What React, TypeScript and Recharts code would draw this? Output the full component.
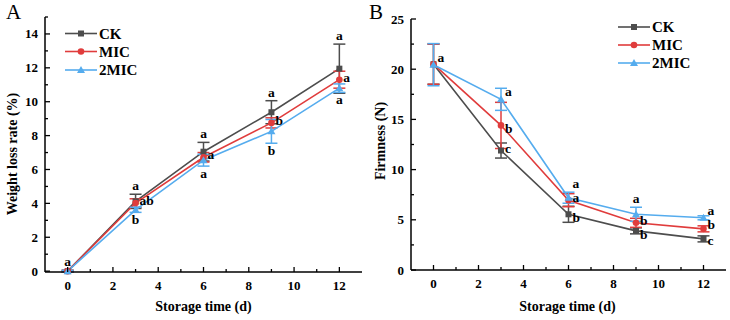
import React from 'react';
import { LineChart, Line, XAxis, YAxis, ErrorBar, ReferenceDot } from 'recharts';

const FONT = '"Liberation Serif", "Times New Roman", serif';

const days = [0, 3, 6, 9, 12];
const seriesNames = ['CK', 'MIC', '2MIC'];
const seriesColors = ['#4d4d4d', '#e03c3c', '#55acee'];
const seriesMarkers = ['square', 'circle', 'triangle'];

const xTicks = [0, 1, 2, 3, 4, 5, 6, 7, 8, 9, 10, 11, 12];

// A - weight loss rate (%)
const weightCK = [0, 4.12, 7.05, 9.38, 11.95];
const weightCKErr = [0.05, 0.42, 0.55, 0.68, 1.45];
const weightMIC = [0, 4.02, 6.72, 8.75, 11.3];
const weightMICErr = [0.05, 0.25, 0.28, 0.3, 0.5];
const weight2MIC = [0, 3.62, 6.55, 8.25, 10.8];
const weight2MICErr = [0.05, 0.15, 0.35, 0.7, 0.25];
const weightLettersCK = ['a', 'a', 'a', 'a', 'a'];
const weightLettersMIC = ['', 'ab', 'a', 'b', 'a'];
const weightLetters2MIC = ['', 'b', 'a', 'b', 'a'];
const weightYTicks = [0, 1, 2, 3, 4, 5, 6, 7, 8, 9, 10, 11, 12, 13, 14, 15];

// B - firmness (N)
const firmCK = [20.5, 11.9, 5.55, 3.9, 3.1];
const firmCKErr = [2.0, 0.75, 0.8, 0.3, 0.3];
const firmMIC = [20.5, 14.4, 6.95, 4.7, 4.1];
const firmMICErr = [2.0, 2.3, 0.65, 0.45, 0.3];
const firm2MIC = [20.45, 17.0, 7.2, 5.55, 5.2];
const firm2MICErr = [2.1, 1.1, 0.55, 0.7, 0.2];
const firmLettersCK = ['', 'c', 'b', 'b', 'c'];
const firmLettersMIC = ['', 'b', 'a', 'b', 'b'];
const firmLetters2MIC = ['a', 'a', 'a', 'a', 'a'];
const firmYTicks = [0, 2.5, 5, 7.5, 10, 12.5, 15, 17.5, 20, 22.5, 25];

type Pos = 'top' | 'bottom' | 'right' | 'midright' | 'upright' | 'topright' | 'downright' | 'lowright';

const weightRows = days.map((d, i) => ({
  day: d,
  s0: weightCK[i], e0: weightCKErr[i],
  s1: weightMIC[i], e1: weightMICErr[i],
  s2: weight2MIC[i], e2: weight2MICErr[i],
}));

const firmRows = days.map((d, i) => ({
  day: d,
  s0: firmCK[i], e0: firmCKErr[i],
  s1: firmMIC[i], e1: firmMICErr[i],
  s2: firm2MIC[i], e2: firm2MICErr[i],
}));

function Marker({ kind, cx, cy, color }: any) {
  if (kind === 'square') return <rect x={cx - 3} y={cy - 3} width={6} height={6} fill={color} />;
  if (kind === 'circle') return <circle cx={cx} cy={cy} r={3.3} fill={color} />;
  return <polygon points={`${cx},${cy - 4} ${cx + 4},${cy + 3} ${cx - 4},${cy + 3}`} fill={color} />;
}

const makeXTick = () => (p: any) => {
  const v = p.payload.value;
  const major = v % 2 === 0;
  return (
    <g key={`xt-${v}`}>
      <line x1={p.x} x2={p.x} y1={p.y} y2={p.y - (major ? 5 : 3)} stroke="#000" strokeWidth={1.3} />
      {major && (
        <text x={p.x} y={p.y + 18} textAnchor="middle" fontSize={13} fontWeight="bold" fontFamily={FONT} fill="#000">
          {v}
        </text>
      )}
    </g>
  );
};

const makeYTick = (step: number) => (p: any) => {
  const v = p.payload.value;
  const major = Math.abs(v % step) < 1e-6;
  return (
    <g key={`yt-${v}`}>
      <line x1={p.x} x2={p.x + (major ? 5 : 3)} y1={p.y} y2={p.y} stroke="#000" strokeWidth={1.3} />
      {major && (
        <text x={p.x - 7} y={p.y + 4.5} textAnchor="end" fontSize={13} fontWeight="bold" fontFamily={FONT} fill="#000">
          {v}
        </text>
      )}
    </g>
  );
};

const letterLabel = (text: string, pos: Pos) => (p: any) => {
  const vb = p.viewBox || {};
  const cx = vb.x + (vb.width || 0) / 2;
  const cy = vb.y + (vb.height || 0) / 2;
  let x = cx;
  let y = cy;
  let anchor = 'middle';
  if (pos === 'top') y = cy - 4;
  else if (pos === 'bottom') y = cy + 12;
  else if (pos === 'right') { x = cx + 4; y = cy + 2; anchor = 'start'; }
  else if (pos === 'midright') { x = cx + 4; y = cy; anchor = 'start'; }
  else if (pos === 'downright') { x = cx + 4; y = cy + 8; anchor = 'start'; }
  else if (pos === 'lowright') { x = cx + 4; y = cy + 6; anchor = 'start'; }
  else if (pos === 'upright') { x = cx + 4; y = cy - 3; anchor = 'start'; }
  else { x = cx + 4; y = cy - 4; anchor = 'start'; }
  return (
    <text x={x} y={y} textAnchor={anchor} fontSize={13.5} fontWeight="bold" fontFamily={FONT} fill="#000">
      {text}
    </text>
  );
};

function anchorValue(v: number, e: number, pos: Pos) {
  if (pos === 'top' || pos === 'topright') return v + e;
  if (pos === 'bottom') return v - e;
  return v;
}

function Panel({ rows, yDomain, yTicks, yStep, margin, yWidth, xHeight, letters }: any) {
  return (
    <LineChart width={365} height={320} data={rows} margin={margin}>
      <XAxis
        type="number"
        dataKey="day"
        domain={[-1, 13]}
        ticks={xTicks}
        interval={0}
        height={xHeight}
        tickSize={0}
        tickMargin={0}
        tickLine={false}
        axisLine={{ stroke: '#000', strokeWidth: 1.5 }}
        tick={makeXTick()}
      />
      <YAxis
        type="number"
        domain={yDomain}
        ticks={yTicks}
        interval={0}
        width={yWidth}
        tickSize={0}
        tickMargin={0}
        tickLine={false}
        axisLine={{ stroke: '#000', strokeWidth: 1.5 }}
        tick={makeYTick(yStep)}
      />
      {[0, 1, 2].map((s) => (
        <Line
          key={seriesNames[s]}
          dataKey={`s${s}`}
          stroke={seriesColors[s]}
          strokeWidth={1.6}
          isAnimationActive={false}
          activeDot={false}
          dot={(p: any) => (
            <Marker key={`d${s}-${p.index}`} kind={seriesMarkers[s]} cx={p.cx} cy={p.cy} color={seriesColors[s]} />
          )}
        >
          <ErrorBar dataKey={`e${s}`} width={6} strokeWidth={1.5} stroke={seriesColors[s]} direction="y" />
        </Line>
      ))}
      {letters.map((l: any, s: number) =>
        l.text.map((t: string, i: number) =>
          t ? (
            <ReferenceDot
              key={`l${s}-${i}`}
              x={days[i]}
              y={anchorValue(rows[i][`s${s}`], rows[i][`e${s}`], l.pos[i])}
              r={1}
              fill="none"
              stroke="none"
              label={letterLabel(t, l.pos[i])}
            />
          ) : null
        )
      )}
    </LineChart>
  );
}

function LegendBlock({ x1, x2, tx, ys }: any) {
  return (
    <g>
      {ys.map((y: number, s: number) => (
        <g key={seriesNames[s]}>
          <line x1={x1} x2={x2} y1={y} y2={y} stroke={seriesColors[s]} strokeWidth={1.6} />
          <Marker kind={seriesMarkers[s]} cx={(x1 + x2) / 2} cy={y} color={seriesColors[s]} />
          <text x={tx} y={y + 5} fontSize={15} fontWeight="bold" fontFamily={FONT} fill="#000">
            {seriesNames[s]}
          </text>
        </g>
      ))}
    </g>
  );
}

export default function App() {
  const weightLetters = [
    { text: weightLettersCK, pos: ['top', 'top', 'top', 'top', 'top'] },
    { text: weightLettersMIC, pos: ['right', 'right', 'right', 'right', 'right'] },
    { text: weightLetters2MIC, pos: ['bottom', 'bottom', 'bottom', 'bottom', 'bottom'] },
  ];
  const firmLetters = [
    { text: firmLettersCK, pos: ['right', 'right', 'downright', 'downright', 'lowright'] },
    { text: firmLettersMIC, pos: ['right', 'downright', 'right', 'right', 'midright'] },
    { text: firmLetters2MIC, pos: ['upright', 'upright', 'topright', 'top', 'upright'] },
  ];
  return (
    <div style={{ position: 'absolute', left: 0, top: 0, width: 730, height: 320, background: '#fff' }}>
      <div style={{ position: 'absolute', left: 0, top: 0 }}>
        <Panel
          rows={weightRows}
          yDomain={[0, 15]}
          yTicks={weightYTicks}
          yStep={2}
          margin={{ top: 17, right: 3, left: 0, bottom: 0 }}
          yWidth={45}
          xHeight={48}
          letters={weightLetters}
        />
      </div>
      <div style={{ position: 'absolute', left: 365, top: 0 }}>
        <Panel
          rows={firmRows}
          yDomain={[0, 25]}
          yTicks={firmYTicks}
          yStep={5}
          margin={{ top: 19, right: 4, left: 0, bottom: 0 }}
          yWidth={46}
          xHeight={50}
          letters={firmLetters}
        />
      </div>
      <svg width={730} height={320} style={{ position: 'absolute', left: 0, top: 0, pointerEvents: 'none' }}>
        <text x={6} y={19} fontSize={21} fontFamily={FONT} fill="#000">A</text>
        <text x={369} y={19} fontSize={21} fontFamily={FONT} fill="#000">B</text>
        <text x={203.5} y={311} textAnchor="middle" fontSize={14} fontWeight="bold" fontFamily={FONT} fill="#000">
          Storage time (d)
        </text>
        <text x={567.5} y={311} textAnchor="middle" fontSize={14} fontWeight="bold" fontFamily={FONT} fill="#000">
          Storage time (d)
        </text>
        <text
          transform="translate(17,154) rotate(-90)"
          textAnchor="middle"
          fontSize={14}
          fontWeight="bold"
          fontFamily={FONT}
          fill="#000"
        >
          Weight loss rate (%)
        </text>
        <text
          transform="translate(385,141) rotate(-90)"
          textAnchor="middle"
          fontSize={14}
          fontWeight="bold"
          fontFamily={FONT}
          fill="#000"
        >
          Firmness (N)
        </text>
        <LegendBlock x1={65} x2={97} tx={99} ys={[33.5, 51.5, 70]} />
        <LegendBlock x1={618} x2={650} tx={652} ys={[27, 45, 63]} />
      </svg>
    </div>
  );
}
